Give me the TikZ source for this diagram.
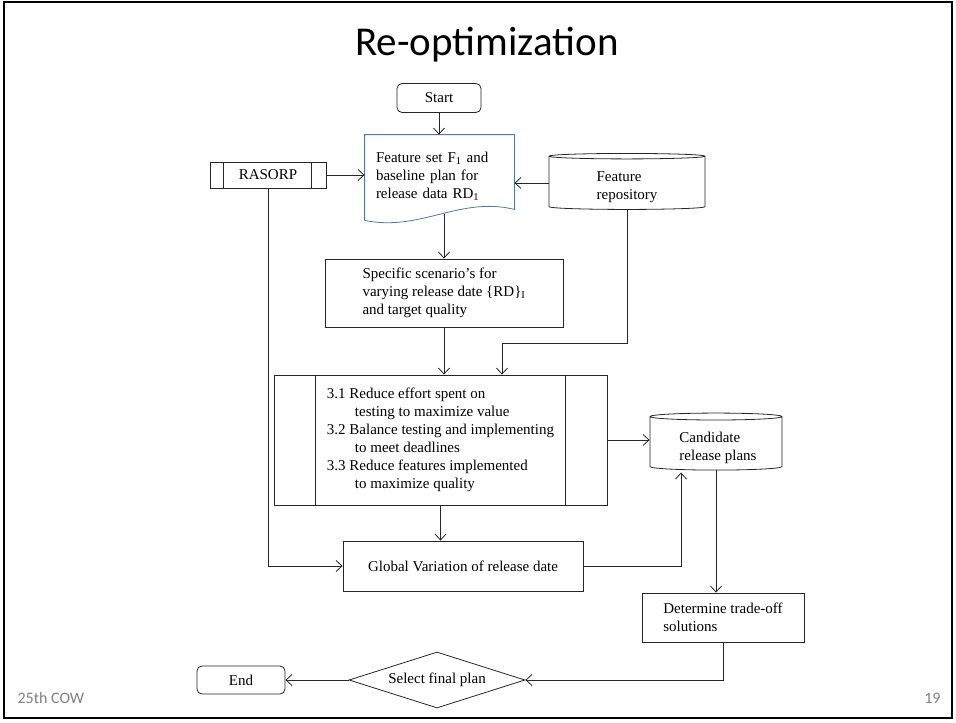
\documentclass[tikz,border=0pt]{standalone}
\usepackage{fontspec}
\setmainfont{Liberation Serif}
\newfontfamily\slidefont{Carlito}
\usetikzlibrary{shapes.geometric,arrows.meta,calc}

\definecolor{docblue}{RGB}{84,118,160}
\definecolor{footgray}{RGB}{128,128,128}

\tikzset{
  line/.style={draw=black!85,line width=0.8pt},
  arr/.style={line,-{Straight Barb[length=6pt,width=11pt]}},
  box/.style={draw=black!85,line width=0.8pt,rectangle,align=left,
    font=\fontsize{15}{18}\selectfont,inner sep=0pt},
  term/.style={box,rounded corners=5pt,align=center},
  store/.style={box,cylinder,shape border rotate=90,aspect=0.09},
  txt/.style={align=left,font=\fontsize{15}{18}\selectfont,inner sep=0pt},
}

\begin{document}
\begin{tikzpicture}[x=1pt,y=-1pt]
  \useasboundingbox (0,0) rectangle (956,723);
  \draw[line width=2pt] (4,2) rectangle (952,718);

  \node[font=\slidefont\fontsize{41}{45}\selectfont] (title) at (487,45) {Re-optimization};

  % flowchart
  \node[term,minimum width=84pt,minimum height=29pt] (start) at (439,98) {Start};
  \node[box,draw=none,text width=127pt,inner xsep=11pt,minimum height=83pt] (doc) at (439.5,176.5)
    {Feature set F\textsubscript{1} and\\baseline plan for\\release data RD\textsubscript{1}};
  \draw[draw=docblue,line width=0.8pt] ([yshift=-2pt]doc.south west) -- (doc.north west) -- (doc.north east)
    -- ([yshift=9pt]doc.south east) .. controls (460,196) and (420,232) .. ([yshift=-2pt]doc.south west);

  \node[box,minimum width=116pt,minimum height=26pt,align=center] (rasorp) at (268,175) {RASORP};
  \draw[line] ([xshift=14pt]rasorp.north west) -- ([xshift=14pt]rasorp.south west);
  \draw[line] ([xshift=-15pt]rasorp.north east) -- ([xshift=-15pt]rasorp.south east);

  \node[store,minimum width=156pt,minimum height=56pt] (repo) at (627,183)
    {\phantom{Feature}\\\phantom{repository}};
  \node[txt] (repotxt) at (627,187) {Feature\\repository};

  \node[box,minimum width=238pt,minimum height=68pt] (spec) at (444,293)
    {Specific scenario's for\\varying release date \{RD\}\textsubscript{I}\\and target quality};

  \node[box,minimum width=333pt,minimum height=130pt] (proc) at (440.5,440)
    {3.1 Reduce effort spent on\\\hspace*{28pt}testing to maximize value\\
     3.2 Balance testing and implementing\\\hspace*{28pt}to meet deadlines\\
     3.3 Reduce features implemented\\\hspace*{28pt}to maximize quality};
  \draw[line] ([xshift=42pt]proc.north west) -- ([xshift=42pt]proc.south west);
  \draw[line] ([xshift=-42pt]proc.north east) -- ([xshift=-42pt]proc.south east);

  \node[store,minimum width=132pt,minimum height=57pt] (cand) at (716,443.5)
    {\phantom{Candidate}\\\phantom{release plans}};
  \node[txt] (candtxt) at (718,448) {Candidate\\release plans};

  \node[box,minimum width=240pt,minimum height=50pt] (glob) at (463,566)
    {Global Variation of release date};

  \node[box,minimum width=162pt,minimum height=49pt] (det) at (723,617.5)
    {Determine trade-off\\solutions};

  \node[box,diamond,aspect=3.1,minimum width=176pt,minimum height=56pt,align=center] (sel) at (437,680)
    {Select final plan};

  \node[term,minimum width=88pt,minimum height=28pt] (end) at (241,680) {End};

  \coordinate (rj) at (502,343);

  \draw[arr] (start) -- (start |- doc.north);
  \draw[arr] (rasorp.east) -- (rasorp.east -| doc.west);
  \draw[arr] (repo.west) -- (repo.west -| doc.east);
  \draw[arr] ([yshift=4pt]spec.north |- doc.south) -- (spec.north);
  \draw[arr] (repo.south) |- (rj) -- (rj |- proc.north);
  \draw[arr] (spec.south) -- (spec.south |- proc.north);
  \draw[arr] (proc.east) -- (proc.east -| cand.west);
  \draw[arr] (proc.south) -- (proc.south |- glob.north);
  \draw[arr] (rasorp.south) |- (glob.west);
  \draw[arr] (glob.east) -| ([xshift=-35pt,yshift=-2pt]cand.south);
  \draw[arr] (cand.south) -- (cand.south |- det.north);
  \draw[arr] (det.south) |- (sel.east);
  \draw[arr] (sel.west) -- (end.east);

  % footer
  \node[font=\slidefont\fontsize{16}{18}\selectfont,text=footgray,anchor=west] (cow) at (14,698) {25th COW};
  \node[font=\slidefont\fontsize{16}{18}\selectfont,text=footgray,anchor=east] (page) at (944,698) {19};
\end{tikzpicture}
\end{document}
